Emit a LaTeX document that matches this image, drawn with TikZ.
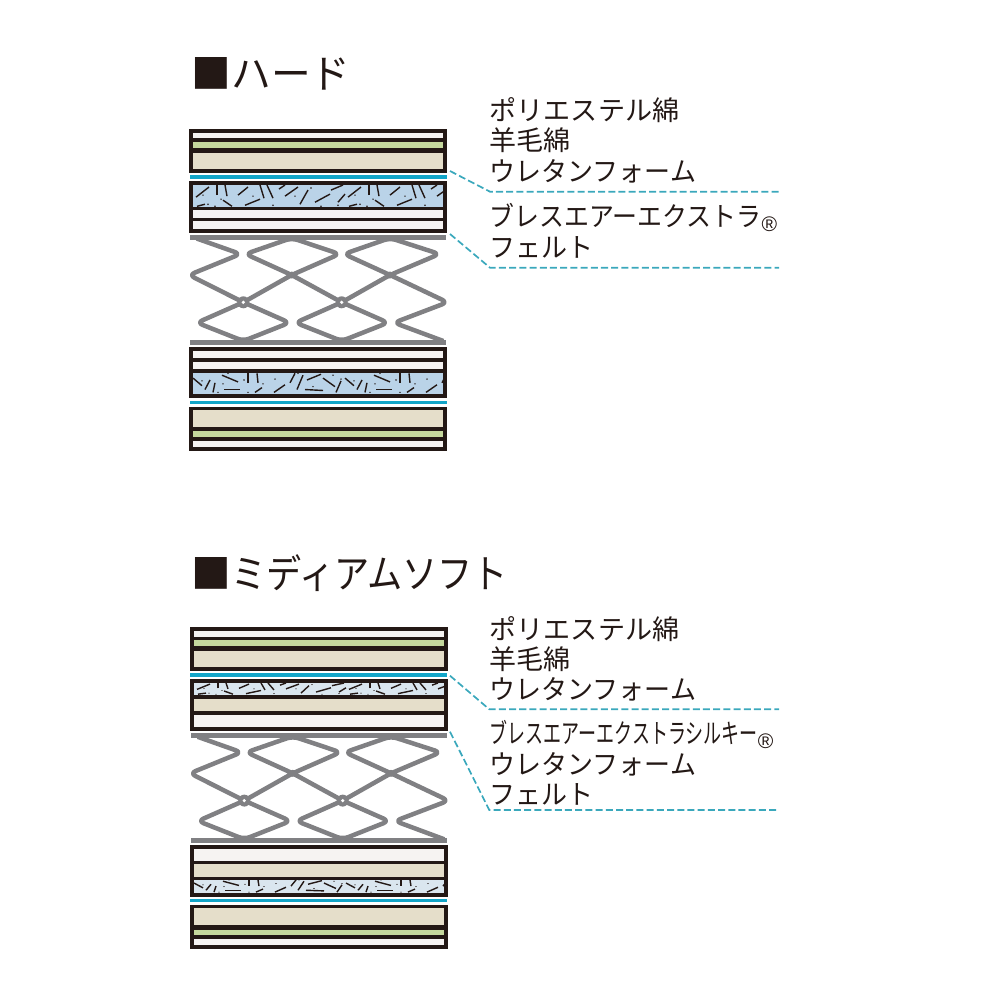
\documentclass[tikz,border=0pt]{standalone}
\usepackage{fontspec}
\usepackage{graphicx}
\newfontfamily\jpfont{Noto Sans CJK JP}
\newfontfamily\markfont{Liberation Sans}

\definecolor{inkblack}{HTML}{231815}
\definecolor{springgrey}{HTML}{808083}
\definecolor{linecyan}{HTML}{12A5C8}
\definecolor{leadercyan}{HTML}{3AA8BC}
\definecolor{woolgreen}{HTML}{C5D89D}
\definecolor{foambeige}{HTML}{E5DECA}
\definecolor{feltwhite}{HTML}{F6F3F2}
\definecolor{airblue}{HTML}{BAD3E8}
\definecolor{silkblue}{HTML}{DAE6EF}

% one tile of fibres, 152 wide and 22 high
\newcommand{\fibretilea}{
    \foreach \xa/\ya/\xb/\yb in {3/12/16/2, 24/10/24/0, 34/11/32/0, 45/10/55/2, 52/20/67/14, 71/13/67/0, 80/13/74/0, 92/11/105/2, 107/19/115/5, 122/17/137/9, 30/15/39/21, 4/21/12/19, 138/5/150/0, 86/4/92/0, 145/17/152/9}
        \draw[fibre] (\xa,\ya) -- (\xb,\yb);
    \foreach \xa/\ya in {60/11, 80/20, 102/11, 28/14, 10/10, 15/19, 22/21, 128/21, 118/3, 145/20}
        \fill[inkblack] (\xa,\ya) circle (0.8);
}
\newcommand{\fibretileb}{
    \foreach \xa/\ya/\xb/\yb in {0/5/9/13, 12/17/17/7, 20/20/22/10, 29/2/45/9, 31/17/47/17, 55/0/55/10, 64/0/65/10, 62/20/69/15, 81/20/92/12, 97/10/102/0, 104/17/110/2, 112/17/130/18, 114/7/128/1, 130/5/142/14, 143/20/148/8}
        \draw[fibre] (\xa,\ya) -- (\xb,\yb);
    \foreach \xa/\ya in {9/8, 30/11, 25/20, 35/0, 51/7, 55/20, 70/11, 82/6, 105/0, 120/14, 140/2, 148/6}
        \fill[inkblack] (\xa,\ya) circle (0.8);
}
% x1, y1, x2, y2, tile, colour
\newcommand{\fibrelayer}[6]{
    \fill[#6] (#1,#2) rectangle (#3,#4);
    \begin{scope}
        \clip (#1,#2) rectangle (#3,#4);
        \foreach \k in {0,1} {
            \begin{scope}[shift={(#1+\k*152,#2)}, yscale={(#4-#2)/22}]
                #5
            \end{scope}
        }
    \end{scope}
}
\newcommand{\regmark}{\raisebox{-1.6pt}{\markfont\fontsize{6pt}{6pt}\selectfont ®}}

\tikzset{
    fibre/.style = {inkblack, line width=0.14mm},
    slab/.style = {fill=inkblack},
    felt/.style = {fill=feltwhite},
    wool/.style = {fill=woolgreen},
    foam/.style = {fill=foambeige},
    cyanbar/.style = {fill=linecyan},
    springbar/.style = {fill=springgrey},
    coil/.style = {draw=springgrey, line width=0.45mm, line join=round, rounded corners=0.6mm},
    leader/.style = {draw=leadercyan, line width=0.17mm, dash pattern=on 0.7mm off 0.32mm},
    heading/.style = {anchor=base west, inner sep=0pt, text=inkblack, font=\jpfont\fontsize{11.3pt}{12pt}\selectfont},
    material/.style = {anchor=base west, inner sep=0pt, text=inkblack, font=\jpfont\fontsize{7.7pt}{9pt}\selectfont}
}

\begin{document}
\begin{tikzpicture}[x=0.01cm, y=-0.01cm]
    \useasboundingbox (0,0) rectangle (1000,1000);

    % springs
    \foreach \sx/\sy in {0/0, 1/498.3} {
        \begin{scope}[shift={(\sx,\sy)}]
            \draw[coil] (196.7,238.5) -- (240.5,254) -- (189,275) -- (243.3,302.3) -- (289.5,322.7) -- (243.3,341) -- (197,322.7) -- (243.3,302.3) -- (291.7,275) -- (339.5,254) -- (291.7,238) -- (245.5,254) -- (291.7,275) -- (341.7,302.3) -- (388,322.7) -- (341.7,341) -- (295.5,322.7) -- (341.7,302.3) -- (390,275) -- (439.5,254) -- (390,238) -- (344,254) -- (390,275) -- (447.5,302.3) -- (394,322.7) -- (443.3,341);
            \foreach \kx in {291.7, 390}
                \fill[springgrey] (\kx,275) circle (3.5);
            \foreach \kx in {243.3, 341.7} {
                \fill[springgrey] (\kx,302.3) circle (6);
                \fill[white] (\kx,302.3) circle (1.8);
            }
            \fill[springbar] (190,235) rectangle (446,240);
            \fill[springbar] (190,340) rectangle (446,345);
        \end{scope}
    }

    % hard, above the spring
    \fill[slab] (189,129) rectangle (447,172.6);
    \fill[felt] (193,132.7) rectangle (443,138);
    \fill[wool] (193,142) rectangle (443,148);
    \fill[foam] (193,152.7) rectangle (443,169.3);
    \fill[cyanbar] (190,175.3) rectangle (447,178.7);
    \fill[slab] (189,181) rectangle (447,232.7);
    \fibrelayer{193}{185}{443}{207.3}{\fibretilea}{airblue}
    \fill[felt] (193,210) rectangle (443,217.7);
    \fill[felt] (193,221.3) rectangle (443,228.7);

    % hard, below the spring
    \fill[slab] (189,346.7) rectangle (447,397.7);
    \fill[felt] (193,350.7) rectangle (443,358);
    \fill[felt] (193,362) rectangle (443,369.3);
    \fibrelayer{193}{373.3}{443}{394.3}{\fibretileb}{airblue}
    \fill[cyanbar] (190,401.3) rectangle (447,404);
    \fill[slab] (189,406.7) rectangle (447,450.7);
    \fill[foam] (193,410) rectangle (443,426.7);
    \fill[wool] (193,430.7) rectangle (443,437.3);
    \fill[felt] (193,440.7) rectangle (443,447.3);

    % medium soft, above the spring
    \fill[slab] (190,627.3) rectangle (447.7,670.7);
    \fill[felt] (194,631) rectangle (444,637);
    \fill[wool] (194,640) rectangle (444,646);
    \fill[foam] (194,650.7) rectangle (444,667);
    \fill[cyanbar] (190,673.3) rectangle (447,676.7);
    \fill[slab] (190,679.3) rectangle (447.7,730.7);
    \fibrelayer{194}{683}{444}{694.7}{\fibretilea}{silkblue}
    \fill[foam] (194,698.7) rectangle (444,711);
    \fill[felt] (194,715) rectangle (444,727);

    % medium soft, below the spring
    \fill[slab] (190,845) rectangle (447.7,896.7);
    \fill[felt] (194,849) rectangle (444,861);
    \fill[foam] (194,864) rectangle (444,877);
    \fibrelayer{194}{880}{444}{893.3}{\fibretileb}{silkblue}
    \fill[cyanbar] (190,899.3) rectangle (447,902);
    \fill[slab] (190,905.3) rectangle (447.7,948.7);
    \fill[foam] (194,907.7) rectangle (444,925);
    \fill[wool] (194,930) rectangle (444,935);
    \fill[felt] (194,939) rectangle (444,945);

    % headings
    \node[heading] (hardtitle) at (191,88) {■ハード};
    \node[heading] (softtitle) at (191,588) {■\scalebox{0.885}[1]{ミディアムソフト}};

    % hard labels
    \node[material] (hardpoly) at (489,120) {ポリエステル綿};
    \node[material] (hardwool) at (489,150) {羊毛綿};
    \node[material] (hardfoam) at (489,181) {\scalebox{0.96}[1]{ウレタンフォーム}};
    \node[material] (hardair) at (489,226) {\scalebox{0.92}[1]{ブレスエアーエクストラ}\regmark};
    \node[material] (hardfelt) at (489,257) {\scalebox{0.96}[1]{フェルト}};

    % medium soft labels
    \node[material] (softpoly) at (489,639) {ポリエステル綿};
    \node[material] (softwool) at (489,669) {羊毛綿};
    \node[material] (softfoam) at (489,699) {\scalebox{0.96}[1]{ウレタンフォーム}};
    \node[material] (softair) at (489,743) {\scalebox{0.665}[1]{ブレスエアーエクストラシルキー}\regmark};
    \node[material] (softfoamb) at (489,774) {\scalebox{0.96}[1]{ウレタンフォーム}};
    \node[material] (softfelt) at (489,804) {\scalebox{0.96}[1]{フェルト}};

    % leaders
    \coordinate (ha) at (450,171);
    \coordinate (hb) at (490,191.7);
    \coordinate (hc) at (779,191.7);
    \coordinate (hd) at (450,234);
    \coordinate (he) at (490,267.7);
    \coordinate (hf) at (779,267.7);
    \coordinate (sa) at (450,675.7);
    \coordinate (sb) at (489.3,709.3);
    \coordinate (sc) at (779,709.3);
    \coordinate (sd) at (450,731.7);
    \coordinate (se) at (489.3,810);
    \coordinate (sf) at (779,810);
    \draw[leader] (ha) -- (hb) -- (hc);
    \draw[leader] (hd) -- (he) -- (hf);
    \draw[leader] (sa) -- (sb) -- (sc);
    \draw[leader] (sd) -- (se) -- (sf);
\end{tikzpicture}
\end{document}
